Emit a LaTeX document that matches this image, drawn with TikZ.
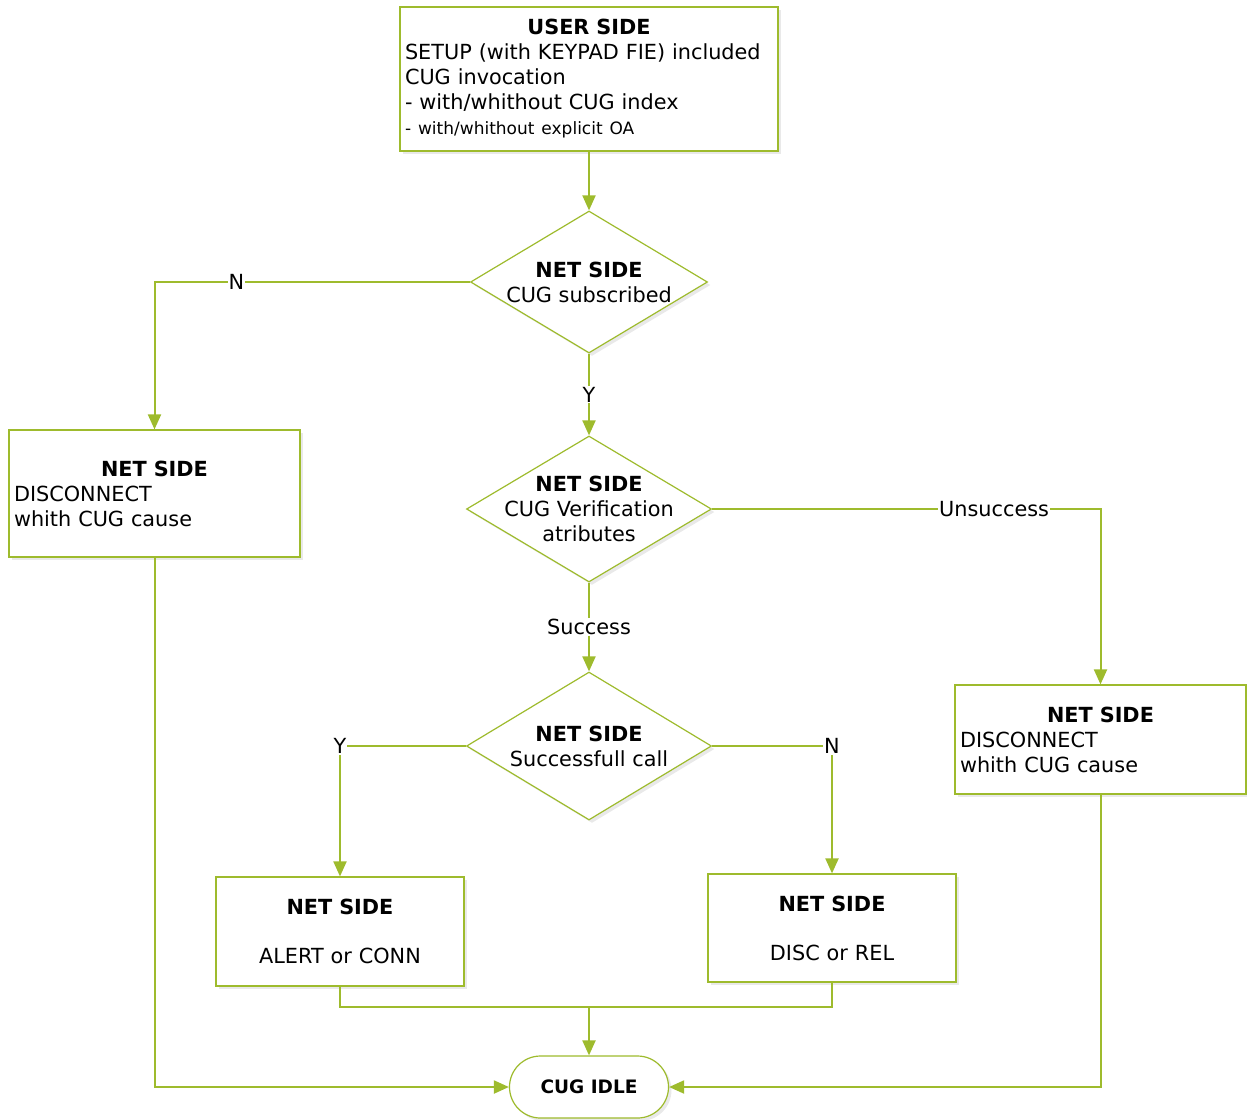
\documentclass[tikz,border=0pt]{standalone}
\usepackage{fontspec}
\setmainfont{DejaVu Sans}
\usetikzlibrary{shapes.geometric,arrows.meta,shadows}
\definecolor{cuggreen}{RGB}{158,187,45}

\begin{document}
\begin{tikzpicture}[x=1pt,y=-1pt,
        box/.style={rectangle,draw=cuggreen,fill=white,line width=1.2pt,inner xsep=5pt,inner ysep=0pt,
            drop shadow={shadow xshift=3pt,shadow yshift=-3pt,fill=black!12,opacity=.7}},
        decision/.style={diamond,draw=cuggreen,fill=white,line width=1.2pt,inner xsep=-70pt,inner ysep=0pt,align=center,
            drop shadow={shadow xshift=3pt,shadow yshift=-3pt,fill=black!12,opacity=.7}},
        terminal/.style={rectangle,rounded corners=31pt,draw=cuggreen,fill=white,line width=1.2pt,
            minimum width=159pt,minimum height=62pt,font=\fontsize{18.5}{22}\selectfont\bfseries,
            drop shadow={shadow xshift=3pt,shadow yshift=-3pt,fill=black!12,opacity=.7}},
        elbow/.style={to path={-| (\tikztotarget) \tikztonodes}},
        elbowv/.style={to path={|- (\tikztotarget) \tikztonodes}},
        tag/.style={fill=white,inner sep=1pt}]
    \useasboundingbox (0,0) rectangle (1247,1119);
    \begin{scope}[every node/.style={font=\fontsize{20.8}{25}\selectfont}]
        \node[box,text width=368pt,minimum height=144pt,align=left] (user) at (589,79)
            {{\centering\bfseries USER SIDE\par}SETUP (with KEYPAD FIE) included\\CUG invocation\\- with/whithout CUG index\\{\fontsize{17}{25}\selectfont - with/whithout explicit OA}};

        \node[decision,minimum width=237pt,minimum height=142pt] (subs) at (589,282) {\textbf{NET SIDE}\\CUG subscribed};
        \node[decision,minimum width=245pt,minimum height=146pt] (verif) at (589,509) {\textbf{NET SIDE}\\CUG Verification\\atributes};
        \node[decision,minimum width=245pt,minimum height=148pt] (call) at (589,746) {\textbf{NET SIDE}\\Successfull call};

        \node[box,text width=281pt,minimum height=127pt,align=left] (ldisc) at (154.5,493.5)
            {{\centering\bfseries NET SIDE\par}DISCONNECT\\whith CUG cause};
        \node[box,text width=281pt,minimum height=109pt,align=left] (rdisc) at (1100.5,739.5)
            {{\centering\bfseries NET SIDE\par}DISCONNECT\\whith CUG cause};

        \node[box,text width=238pt,minimum height=109pt,align=center] (alert) at (340,931.5) {\textbf{NET SIDE}\\[24pt]ALERT or CONN};
        \node[box,text width=238pt,minimum height=108pt,align=center] (disc) at (832,928) {\textbf{NET SIDE}\\[24pt]DISC or REL};

        \node[terminal] (idle) at (589,1087) {CUG IDLE};
        \coordinate (join) at (589,1007);

        \begin{scope}[every edge/.style={draw=cuggreen,line width=2pt,-{Triangle[length=15pt,width=13pt]}}]
            \path (user) edge (subs);
            \path (subs) edge[elbow] node[tag,pos=.37] {N} (ldisc);
            \path (subs) edge node[tag] {Y} (verif);
            \path (verif) edge[elbow] node[tag,pos=.363] {Unsuccess} (rdisc);
            \path (verif) edge node[tag] {Success} (call);
            \path (call) edge[elbow] node[tag,pos=.5] {Y} (alert);
            \path (call) edge[elbow] node[tag,pos=.5] {N} (disc);
            \path (alert) edge[elbowv,-] (join);
            \path (disc) edge[elbowv,-] (join);
            \path (join) edge (idle);
            \path (ldisc) edge[elbowv] (idle);
            \path (rdisc) edge[elbowv] (idle);
        \end{scope}
    \end{scope}
\end{tikzpicture}
\end{document}
